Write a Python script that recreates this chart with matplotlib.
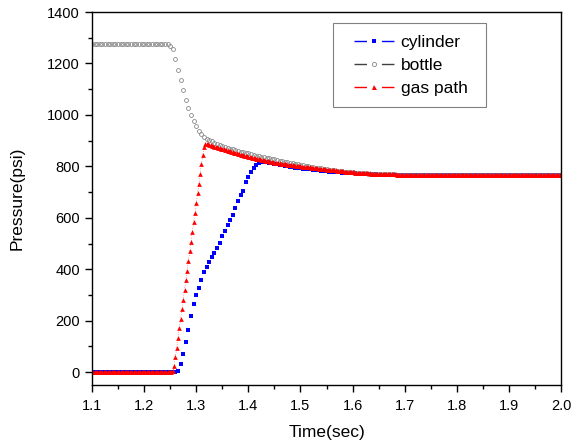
import numpy as np
import matplotlib
matplotlib.use("Agg")
import matplotlib.pyplot as plt
from matplotlib.ticker import MultipleLocator
from matplotlib.lines import Line2D
from matplotlib.patches import Rectangle

plt.rcParams['font.family'] = ['Liberation Sans', 'DejaVu Sans']

# ---- data ----
t0 = 1.1
dt_coarse = 0.005   # cylinder / bottle sampling
dt_fine = 0.0025    # gas path sampling

cylinder = [
    0, 0, 0, 0, 0, 0, 0, 0, 0, 0, 0, 0, 0, 0, 0, 0,
    0, 0, 0, 0, 0, 0, 0, 0, 0, 0, 0, 0, 0, 0, 0, 0,
    0, 5, 30, 72, 118, 165, 218, 265, 300, 328, 360, 388, 410, 429, 448, 462,
    483, 503, 528, 550, 571, 590, 612, 640, 666, 688, 705, 738, 760, 780, 795, 806,
    813, 817, 818, 817, 815, 813, 810, 808, 806, 804, 802, 800, 799, 797, 795, 794,
    793, 791, 790, 789, 788, 786, 785, 784, 783, 782, 781, 780, 779, 779, 778, 777,
    776, 775, 775, 774, 773, 773, 772, 771, 771, 770, 770, 769, 769, 769, 768, 768,
    768, 768, 768, 768, 768, 768, 768, 768, 768, 768, 768, 768, 768, 768, 768, 768,
    768, 768, 768, 768, 768, 768, 768, 768, 768, 768, 768, 768, 768, 768, 768, 768,
    768, 768, 768, 768, 768, 768, 768, 768, 768, 768, 768, 768, 768, 768, 768, 768,
    768, 768, 768, 768, 768, 768, 768, 768, 768, 768, 768, 768, 768, 768, 768, 768,
    768, 768, 768, 768, 768,
]

bottle = [
    1275, 1276, 1275, 1274, 1275, 1276, 1275, 1275, 1274, 1275,
    1276, 1275, 1275, 1274, 1275, 1276, 1275, 1275, 1274, 1275,
    1276, 1275, 1275, 1274, 1275, 1276, 1275, 1275, 1276, 1274,
    1269, 1255, 1217, 1175, 1136, 1095, 1058, 1026, 1000, 977,
    957, 938, 924, 914, 907, 902, 897, 892, 888, 884,
    880, 876, 872, 869, 866, 863, 860, 857, 855, 852,
    850, 847, 845, 842, 840, 837, 835, 833, 831, 829,
    827, 824, 822, 820, 818, 816, 814, 812, 810, 808,
    806, 804, 802, 800, 799, 797, 795, 793, 792, 790,
    789, 787, 786, 784, 783, 782, 781, 780, 779, 778,
    777, 776, 775, 774, 774, 773, 772, 771, 771, 771,
    770, 770, 770, 769, 769, 769, 769, 768, 768, 768,
    768, 768, 768, 768, 768, 768, 768, 768, 768, 768,
    768, 768, 768, 768, 768, 768, 768, 768, 768, 768,
    768, 768, 768, 768, 768, 768, 768, 768, 768, 768,
    768, 768, 768, 768, 768, 768, 768, 768, 768, 768,
    768, 768, 768, 768, 768, 768, 768, 768, 768, 768,
    768, 768, 768, 768, 768, 768, 768, 768, 768, 768,
    768,
]

gas_path = [
    0, 0, 0, 0, 0, 0, 0, 0, 0, 0, 0, 0, 0, 0, 0, 0, 0, 0, 0, 0,
    0, 0, 0, 0, 0, 0, 0, 0, 0, 0, 0, 0, 0, 0, 0, 0, 0, 0, 0, 0,
    0, 0, 0, 0, 0, 0, 0, 0, 0, 0, 0, 0, 0, 0, 0, 0, 0, 0, 0, 0,
    0, 0, 5, 25, 58, 95, 132, 170, 207, 245, 282, 320, 357, 395, 432, 470,
    507, 545, 582, 620, 657, 695, 732, 770, 808, 845, 874, 886,
    888, 886, 884, 882, 880, 878, 877, 875, 874, 872, 871, 869,
    868, 866, 864, 863, 861, 859, 858, 856, 855, 853, 852, 850,
    849, 847, 846, 844, 843, 842, 840, 839, 838, 837, 835, 834,
    833, 832, 830, 829, 828, 827, 825, 824, 823, 822, 821, 820,
    819, 818, 817, 816, 815, 814, 813, 813, 812, 811, 810, 810,
    809, 808, 807, 807, 806, 805, 804, 804, 803, 802, 801, 801,
    800, 799, 799, 798, 797, 797, 796, 796, 795, 794, 793, 793,
    792, 792, 791, 790, 790, 789, 788, 788, 787, 787, 786, 786,
    785, 785, 784, 784, 783, 783, 782, 782, 781, 781, 780, 780,
    779, 779, 778, 778, 777, 777, 776, 776, 776, 775, 775, 775,
    774, 774, 774, 773, 773, 773, 772, 772, 772, 772, 771, 771,
    771, 771, 770, 770, 770, 770, 770, 769, 769, 769, 769, 769,
    769, 769, 768, 768, 768, 768, 768, 768,
    768, 768, 768, 768, 768, 768, 768, 768, 768, 768, 768, 768,
    768, 768, 768, 768, 768, 768, 768, 768, 768, 768, 768, 768,
    768, 768, 768, 768, 768, 768, 768, 768, 768, 768, 768, 768,
    768, 768, 768, 768, 768, 768, 768, 768, 768, 768, 768, 768,
    768, 768, 768, 768, 768, 768, 768, 768, 768, 768, 768, 768,
    768, 768, 768, 768, 768, 768, 768, 768, 768, 768, 768, 768,
    768, 768, 768, 768, 768, 768, 768, 768, 768, 768, 768, 768,
    768, 768, 768, 768, 768, 768, 768, 768, 768, 768, 768, 768,
    768, 768, 768, 768, 768, 768, 768, 768, 768, 768, 768, 768,
    768, 768, 768, 768, 768, 768, 768, 768, 768, 768, 768, 768,
    768,
]

series_labels = ["cylinder", "bottle", "gas path"]
x_label = "Time(sec)"
y_label = "Pressure(psi)"

t_cyl = t0 + dt_coarse * np.arange(len(cylinder))
t_bot = t0 + dt_coarse * np.arange(len(bottle))
t_gas = t0 + dt_fine * np.arange(len(gas_path))

# ---- styles ----
cyl_style = dict(color='blue', marker='s', markersize=2.3, markeredgewidth=0)
bot_style = dict(color='#404040', marker='o', markersize=2.8, markerfacecolor='none',
                 markeredgecolor='#888888', markeredgewidth=0.6)
gas_style = dict(color='red', marker='^', markersize=3.4, markeredgewidth=0)

# ---- figure ----
fig = plt.figure(figsize=(5.88, 4.45), dpi=100)
ax = fig.add_axes([0.1565, 0.1348, 0.7976, 0.8382])

ax.plot(t_cyl, cylinder, ls='none', **cyl_style)
ax.plot(t_bot, bottle, ls='none', **bot_style)
ax.plot(t_gas, gas_path, lw=0.3, ls=(0, (2, 4)), **gas_style)

ax.set_xlim(1.1, 2.0)
ax.set_ylim(-50, 1400)
ax.xaxis.set_major_locator(MultipleLocator(0.1))
ax.xaxis.set_minor_locator(MultipleLocator(0.05))
ax.yaxis.set_major_locator(MultipleLocator(200))
ax.yaxis.set_minor_locator(MultipleLocator(100))
ax.xaxis.set_major_formatter(plt.FuncFormatter(lambda v, p: f"{v:.1f}"))
ax.tick_params(which='major', direction='out', length=5, width=1, labelsize=10.5)
ax.tick_params(which='minor', direction='out', length=3, width=1)
ax.tick_params(axis='x', which='major', pad=5.4)
ax.tick_params(axis='y', which='major', pad=3.6)
for s in ax.spines.values():
    s.set_linewidth(1)

ax.set_xlabel(x_label, fontsize=12.5, labelpad=8)
ax.set_ylabel(y_label, fontsize=12.5, labelpad=16)

# legend: Origin-like handles "— • —" with a square frame
leg_ls = (0, (9.0, 10.75))
handles = [
    Line2D([], [], lw=1, ls=leg_ls, **{**cyl_style, 'markersize': 2.8}),
    Line2D([], [], lw=1, ls=leg_ls, **{**bot_style, 'markersize': 3.0}),
    Line2D([], [], lw=1, ls=leg_ls, **{**gas_style, 'markersize': 3.6}),
]
leg = ax.legend(handles, series_labels, loc='upper left',
                bbox_to_anchor=(0.558, 0.939), borderaxespad=0, borderpad=0,
                fontsize=12.5, frameon=False,
                handlelength=2.3, handletextpad=0.4, labelspacing=0.45)
frame = Rectangle((0.514, 0.745), 0.326, 0.2255, transform=ax.transAxes,
                  fill=False, edgecolor='#808080', lw=0.8, zorder=4)
ax.add_patch(frame)

fig.savefig("out.png", dpi=100)
